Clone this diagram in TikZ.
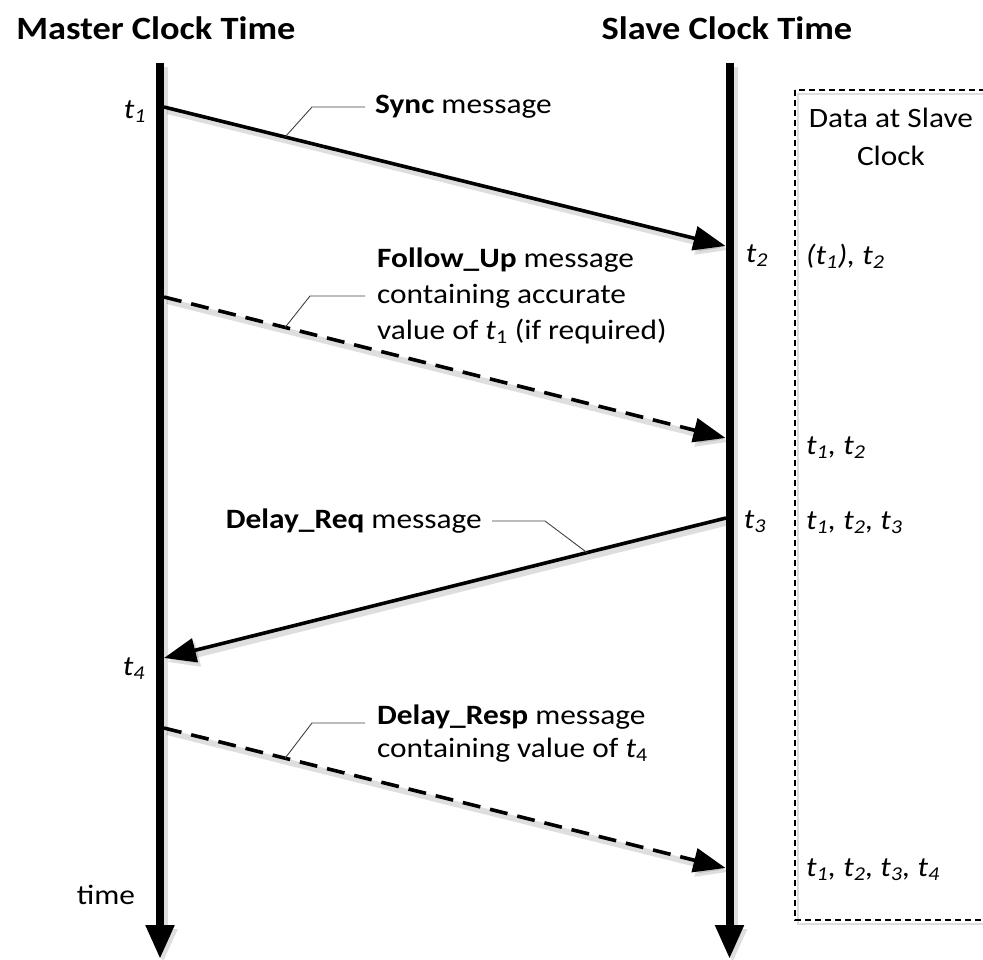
\documentclass[tikz,border=0pt]{standalone}
\usepackage{fontspec}
\setmainfont{Carlito}
\usepackage{graphicx}
\usetikzlibrary{arrows.meta}
\newcommand{\wide}[1]{\scalebox{1.12}[1]{#1}}
\newcommand{\bodyfs}{\fontsize{28}{34}\selectfont}
\newcommand{\titlefs}{\fontsize{32.5}{39}\selectfont\bfseries}
\begin{document}
\begin{tikzpicture}[x=1pt,y=-1pt,
  axis/.style={line width=8pt, -{Triangle[length=34pt,width=27pt]}},
  msg/.style={line width=3.6pt, -{Triangle[length=32pt,width=24pt]}},
  dmsg/.style={msg, dash pattern=on 18pt off 10pt},
  leader/.style={line width=0.9pt, black!75},
  dashbox/.style={line width=1.3pt, dash pattern=on 6pt off 4pt},
  lbl/.style={inner sep=0pt, font=\bodyfs},
  ttl/.style={inner sep=0pt, font=\titlefs},
  shad/.style={preaction={draw=black, opacity=0.13, line width=#1, transform canvas={shift={(3pt,-4pt)}}}},
]
\useasboundingbox (0,0) rectangle (983,960);
\clip (0,0) rectangle (983,960);

% axes
\coordinate (mtop) at (160,63);   \coordinate (mbot) at (160,959);
\coordinate (stop) at (729.5,63); \coordinate (sbot) at (729.5,959);
\draw[axis, shad=10pt] (mtop) -- (mbot);
\draw[axis, shad=10pt] (stop) -- (sbot);

% data box
\draw[dashbox, shad=2pt] (795,90) rectangle (1000,920);

% titles
\node[ttl] (mtitle) at (156,28) {\wide{Master Clock Time}};
\node[ttl] (stitle) at (727,28) {\wide{Slave Clock Time}};

% time stamps
\node[lbl] (lt1) at (135,112) {\wide{\textit{t\textsubscript{1}}}};
\node[lbl] (lt4) at (134,669) {\wide{\textit{t\textsubscript{4}}}};
\node[lbl] (lt2) at (757,256) {\wide{\textit{t\textsubscript{2}}}};
\node[lbl] (lt3) at (755,522) {\wide{\textit{t\textsubscript{3}}}};
\node[lbl] (timel) at (106,895) {\wide{time}};

% data column
\node[lbl] (datal) at (891,139) {\fontsize{28}{38}\selectfont\wide{\begin{tabular}{@{}c@{}}Data at Slave\\ Clock\end{tabular}}};
\node[lbl, anchor=west] (d1) at (806,256) {\wide{\textit{(t\textsubscript{1}), t\textsubscript{2}}}};
\node[lbl, anchor=west] (d2) at (806,448) {\wide{\textit{t\textsubscript{1}, t\textsubscript{2}}}};
\node[lbl, anchor=west] (d3) at (806,523) {\wide{\textit{t\textsubscript{1}, t\textsubscript{2}, t\textsubscript{3}}}};
\node[lbl, anchor=west] (d4) at (806,870) {\wide{\textit{t\textsubscript{1}, t\textsubscript{2}, t\textsubscript{3}, t\textsubscript{4}}}};

% message labels
\node[lbl, anchor=west] (syncl) at (375,107) {\wide{\textbf{Sync} message}};
\node[lbl, anchor=west] (ful) at (377,296) {\fontsize{28}{36}\selectfont\wide{\begin{tabular}{@{}l@{}}\textbf{Follow\_Up} message\\ containing accurate\\ value of \textit{t}\textsubscript{1} (if required)\end{tabular}}};
\node[lbl, anchor=east] (drql) at (482,521) {\wide{\textbf{Delay\_Req} message}};
\node[lbl, anchor=west] (drpl) at (377,734) {\fontsize{28}{33}\selectfont\wide{\begin{tabular}{@{}l@{}}\textbf{Delay\_Resp} message\\ containing value of \textit{t}\textsubscript{4}\end{tabular}}};

% message endpoints
\coordinate (t1m) at (164,107);  \coordinate (t2s) at (725.5,246);
\coordinate (fum) at (164,297);  \coordinate (fus) at (725.5,438);
\coordinate (t3s) at (726,518);  \coordinate (t4m) at (164,658);
\coordinate (drm) at (164,728);  \coordinate (drs) at (725.5,868);

% messages
\draw[msg, shad=6pt] (t1m) -- coordinate[pos=0.2157] (ls1) (t2s);
\draw[dmsg, shad=6pt] (fum) -- coordinate[pos=0.2157] (ls2) (fus);
\draw[msg, shad=6pt] (t3s) -- coordinate[pos=0.2473] (ls3) (t4m);
\draw[dmsg, shad=6pt] (drm) -- coordinate[pos=0.2157] (ls4) (drs);

% leaders
\draw[leader] (ls1) -- ([xshift=-63pt]syncl.west) -- ([xshift=-10pt]syncl.west);
\draw[leader] (ls2) -- ([xshift=-67pt]ful.west) -- ([xshift=-12pt]ful.west);
\draw[leader] (ls3) -- ([xshift=63pt]drql.east) -- ([xshift=10pt]drql.east);
\draw[leader] (ls4) -- ([xshift=-65pt,yshift=11pt]drpl.west) -- ([xshift=-12pt,yshift=11pt]drpl.west);
\end{tikzpicture}
\end{document}
